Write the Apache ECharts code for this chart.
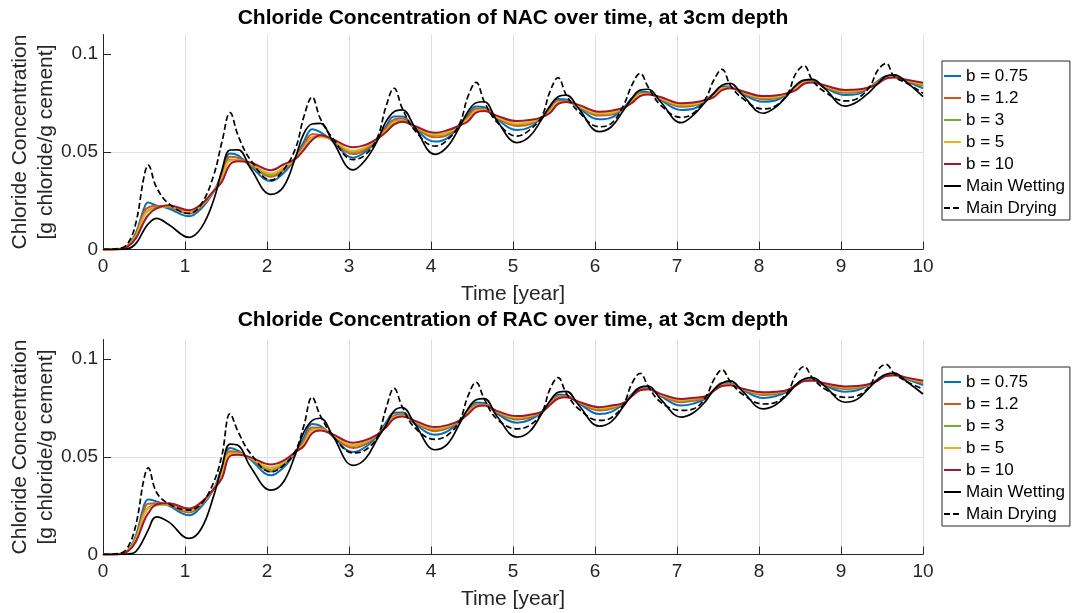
<!DOCTYPE html>
<html>
<head>
<meta charset="utf-8">
<script src="https://cdn.jsdelivr.net/npm/echarts@6/dist/echarts.min.js"></script>
<style>
  html, body { margin: 0; padding: 0; background: #fff; }
  #chart { width: 1075px; height: 613px; }
</style>
</head>
<body>
<div id="chart"></div>
<script>
// sample times (years)
var years = [0, 0.2, 0.3, 0.4, 0.5, 0.55, 0.65, 0.8,
  1.05, 1.2, 1.35, 1.45, 1.55, 1.65, 1.8,
  2.05, 2.2, 2.35, 2.45, 2.55, 2.65, 2.8,
  3.05, 3.2, 3.35, 3.45, 3.55, 3.65, 3.8,
  4.05, 4.2, 4.35, 4.45, 4.55, 4.65, 4.8,
  5.05, 5.2, 5.35, 5.45, 5.55, 5.65, 5.8,
  6.05, 6.2, 6.35, 6.45, 6.55, 6.65, 6.8,
  7.05, 7.2, 7.35, 7.45, 7.55, 7.65, 7.8,
  8.05, 8.2, 8.35, 8.45, 8.55, 8.65, 8.8,
  9.05, 9.2, 9.35, 9.45, 9.55, 9.65, 9.8,
  10];

// NAC
var nacB075 = [0, 0.0002, 0.002, 0.0083, 0.021, 0.024, 0.0225, 0.021,
  0.017, 0.021, 0.0295, 0.039, 0.0491, 0.048, 0.0425,
  0.035, 0.039, 0.047, 0.0552, 0.0615, 0.060, 0.0555,
  0.047, 0.050, 0.0565, 0.063, 0.068, 0.068, 0.062,
  0.0552, 0.057, 0.0635, 0.069, 0.0732, 0.0728, 0.067,
  0.0611, 0.0625, 0.0676, 0.0725, 0.077, 0.0768, 0.0725,
  0.0666, 0.0675, 0.0725, 0.0775, 0.0808, 0.0805, 0.0765,
  0.0714, 0.072, 0.0765, 0.080, 0.0835, 0.0833, 0.0795,
  0.0756, 0.0762, 0.080, 0.0835, 0.0862, 0.0862, 0.0828,
  0.079, 0.0795, 0.083, 0.0862, 0.0887, 0.0887, 0.086,
  0.0824];
var nacB12 = [0, 0.0002, 0.002, 0.0075, 0.0194, 0.0215, 0.0222, 0.0218,
  0.0184, 0.022, 0.0297, 0.0375, 0.0474, 0.0468, 0.0432,
  0.0372, 0.0405, 0.0468, 0.0535, 0.059, 0.0585, 0.0558,
  0.0488, 0.051, 0.0566, 0.062, 0.0665, 0.067, 0.0625,
  0.0574, 0.0585, 0.0635, 0.068, 0.072, 0.072, 0.0675,
  0.0632, 0.064, 0.0676, 0.0715, 0.076, 0.076, 0.073,
  0.0685, 0.069, 0.0725, 0.0765, 0.080, 0.080, 0.077,
  0.073, 0.0735, 0.0765, 0.0795, 0.0828, 0.083, 0.080,
  0.0768, 0.0772, 0.080, 0.083, 0.0858, 0.086, 0.0832,
  0.0802, 0.0805, 0.083, 0.0858, 0.0883, 0.0885, 0.0862,
  0.0838];
var nacB3 = [0, 0.0002, 0.002, 0.007, 0.0177, 0.020, 0.0215, 0.022,
  0.019, 0.0225, 0.0298, 0.0365, 0.046, 0.0458, 0.0437,
  0.038, 0.0415, 0.0467, 0.0525, 0.0575, 0.0578, 0.056,
  0.0498, 0.052, 0.0567, 0.061, 0.0655, 0.066, 0.063,
  0.0583, 0.0595, 0.0635, 0.067, 0.0712, 0.0715, 0.0678,
  0.064, 0.0648, 0.0676, 0.071, 0.0755, 0.0757, 0.0732,
  0.0692, 0.0697, 0.0725, 0.076, 0.0795, 0.0797, 0.0772,
  0.0737, 0.074, 0.0765, 0.079, 0.0825, 0.0828, 0.0803,
  0.0775, 0.0778, 0.080, 0.0825, 0.0855, 0.0858, 0.0835,
  0.0807, 0.081, 0.083, 0.0855, 0.088, 0.0883, 0.0864,
  0.0843];
var nacB5 = [0, 0.0002, 0.0018, 0.0065, 0.017, 0.0195, 0.021, 0.0222,
  0.0193, 0.0228, 0.0299, 0.036, 0.0454, 0.0455, 0.044,
  0.0389, 0.042, 0.0466, 0.052, 0.057, 0.0575, 0.056,
  0.0505, 0.0525, 0.0568, 0.0605, 0.065, 0.0655, 0.063,
  0.0588, 0.060, 0.0635, 0.0665, 0.071, 0.0712, 0.068,
  0.0645, 0.0652, 0.0676, 0.0705, 0.0752, 0.0755, 0.0735,
  0.0697, 0.070, 0.0725, 0.0755, 0.0792, 0.0795, 0.0775,
  0.0742, 0.0745, 0.0765, 0.0787, 0.0822, 0.0826, 0.0805,
  0.078, 0.0782, 0.080, 0.0822, 0.0853, 0.0857, 0.0837,
  0.081, 0.0813, 0.083, 0.0852, 0.0878, 0.0882, 0.0866,
  0.0847];
var nacB10 = [0, 0.0001, 0.0015, 0.0057, 0.0142, 0.0175, 0.021, 0.0227,
  0.0201, 0.0232, 0.030, 0.0347, 0.0436, 0.0452, 0.0445,
  0.0406, 0.0435, 0.0465, 0.051, 0.056, 0.0585, 0.0565,
  0.0523, 0.0535, 0.0568, 0.060, 0.064, 0.0654, 0.0632,
  0.0597, 0.061, 0.0635, 0.0655, 0.070, 0.0708, 0.0685,
  0.0657, 0.0662, 0.0676, 0.0698, 0.0745, 0.0755, 0.074,
  0.0705, 0.071, 0.0725, 0.075, 0.0785, 0.0793, 0.078,
  0.0748, 0.0752, 0.0765, 0.078, 0.0815, 0.0825, 0.081,
  0.0785, 0.0788, 0.080, 0.0815, 0.0848, 0.0855, 0.084,
  0.0816, 0.0818, 0.083, 0.0848, 0.0875, 0.088, 0.0868,
  0.0853];
var nacWet = [0, 0, 0.0003, 0.003, 0.010, 0.013, 0.0159, 0.0128,
  0.0062, 0.0112, 0.0253, 0.0405, 0.0509, 0.051, 0.0415,
  0.0282, 0.032, 0.0475, 0.0594, 0.0642, 0.0645, 0.0555,
  0.0407, 0.0458, 0.056, 0.0654, 0.0705, 0.0714, 0.0628,
  0.0487, 0.0526, 0.0628, 0.0705, 0.0751, 0.0756, 0.0662,
  0.0547, 0.0577, 0.0666, 0.0734, 0.0782, 0.079, 0.0722,
  0.0603, 0.0628, 0.0714, 0.0773, 0.0816, 0.082, 0.0756,
  0.0649, 0.0688, 0.0756, 0.0799, 0.0841, 0.085, 0.079,
  0.0697, 0.0727, 0.079, 0.0841, 0.0867, 0.087, 0.0824,
  0.0734, 0.0756, 0.0807, 0.085, 0.0887, 0.0893, 0.0855,
  0.0782];
var nacDry = [0, 0.0005, 0.003, 0.0134, 0.0372, 0.0432, 0.032, 0.0235,
  0.0185, 0.0233, 0.038, 0.055, 0.070, 0.058, 0.0458,
  0.0355, 0.0407, 0.052, 0.068, 0.078, 0.067, 0.0569,
  0.046, 0.0485, 0.0577, 0.073, 0.0825, 0.0722, 0.0611,
  0.0529, 0.056, 0.0645, 0.0782, 0.0855, 0.0756, 0.0654,
  0.058, 0.0611, 0.068, 0.0807, 0.0879, 0.079, 0.0705,
  0.0628, 0.0645, 0.0739, 0.0841, 0.0901, 0.083, 0.0739,
  0.0676, 0.0697, 0.0773, 0.0867, 0.0922, 0.0841, 0.0773,
  0.0719, 0.0734, 0.0799, 0.0901, 0.094, 0.0867, 0.0807,
  0.076, 0.0773, 0.0833, 0.0918, 0.0952, 0.0884, 0.0852,
  0.0799];

// RAC
var racB075 = [0, 0.0002, 0.002, 0.0095, 0.025, 0.0281, 0.0272, 0.025,
  0.0201, 0.0245, 0.0335, 0.0445, 0.0545, 0.053, 0.0485,
  0.0405, 0.0445, 0.0525, 0.060, 0.0668, 0.0658, 0.0605,
  0.0524, 0.055, 0.061, 0.0675, 0.0725, 0.0727, 0.067,
  0.0613, 0.063, 0.0685, 0.074, 0.0778, 0.0775, 0.0722,
  0.0674, 0.0688, 0.0728, 0.0778, 0.0818, 0.0815, 0.0775,
  0.0719, 0.073, 0.0772, 0.082, 0.0852, 0.085, 0.081,
  0.0762, 0.0772, 0.0798, 0.084, 0.0877, 0.0876, 0.0842,
  0.0801, 0.081, 0.0835, 0.0868, 0.0895, 0.0894, 0.0865,
  0.0833, 0.084, 0.0868, 0.0898, 0.092, 0.092, 0.0898,
  0.0867];
var racB12 = [0, 0.0002, 0.002, 0.0085, 0.023, 0.026, 0.0262, 0.0252,
  0.0215, 0.0255, 0.0335, 0.043, 0.0528, 0.0523, 0.049,
  0.0425, 0.046, 0.0525, 0.058, 0.065, 0.0648, 0.0608,
  0.0545, 0.0563, 0.0612, 0.0665, 0.0712, 0.0718, 0.0677,
  0.0631, 0.0645, 0.0685, 0.0732, 0.0768, 0.0769, 0.0728,
  0.0691, 0.070, 0.0729, 0.0772, 0.081, 0.081, 0.0778,
  0.0737, 0.0745, 0.0773, 0.0816, 0.0847, 0.0848, 0.0815,
  0.0779, 0.0786, 0.0802, 0.084, 0.0872, 0.0872, 0.0845,
  0.0816, 0.0821, 0.0838, 0.0867, 0.0892, 0.0892, 0.087,
  0.0847, 0.0851, 0.087, 0.0895, 0.0917, 0.0919, 0.0901,
  0.0876];
var racB3 = [0, 0.0002, 0.002, 0.008, 0.021, 0.024, 0.0255, 0.0255,
  0.022, 0.026, 0.0335, 0.042, 0.052, 0.0518, 0.0492,
  0.0435, 0.0467, 0.0525, 0.057, 0.064, 0.0642, 0.061,
  0.0555, 0.0572, 0.0613, 0.066, 0.0705, 0.0713, 0.068,
  0.064, 0.0652, 0.0685, 0.0727, 0.0763, 0.0766, 0.0731,
  0.0698, 0.0707, 0.0729, 0.0769, 0.0805, 0.0808, 0.078,
  0.0744, 0.0752, 0.0774, 0.0814, 0.0844, 0.0847, 0.0818,
  0.0786, 0.0793, 0.0805, 0.0839, 0.0868, 0.087, 0.0846,
  0.0822, 0.0826, 0.084, 0.0866, 0.089, 0.0891, 0.0873,
  0.0852, 0.0855, 0.0871, 0.0895, 0.0915, 0.0918, 0.0903,
  0.0881];
var racB5 = [0, 0.0002, 0.0018, 0.0075, 0.020, 0.0235, 0.025, 0.0258,
  0.0225, 0.0262, 0.0335, 0.041, 0.0515, 0.0515, 0.0494,
  0.0445, 0.0472, 0.0525, 0.0565, 0.0635, 0.064, 0.0612,
  0.056, 0.0578, 0.0614, 0.0655, 0.070, 0.071, 0.0683,
  0.0645, 0.0657, 0.0685, 0.0722, 0.0759, 0.0764, 0.0733,
  0.0702, 0.0711, 0.073, 0.0767, 0.0801, 0.0806, 0.0781,
  0.0749, 0.0757, 0.0775, 0.0812, 0.0842, 0.0846, 0.082,
  0.0791, 0.0798, 0.0808, 0.0838, 0.0865, 0.0868, 0.0847,
  0.0826, 0.083, 0.0841, 0.0865, 0.0888, 0.089, 0.0875,
  0.0856, 0.0859, 0.0872, 0.0893, 0.0914, 0.0917, 0.0904,
  0.0885];
var racB10 = [0, 0.0001, 0.0015, 0.0065, 0.017, 0.021, 0.0255, 0.0262,
  0.0235, 0.0268, 0.0335, 0.039, 0.0504, 0.051, 0.0497,
  0.046, 0.048, 0.0525, 0.0555, 0.062, 0.0634, 0.0615,
  0.0572, 0.0585, 0.0615, 0.065, 0.0695, 0.0706, 0.0685,
  0.0652, 0.0662, 0.0685, 0.0718, 0.0755, 0.0762, 0.0735,
  0.0708, 0.0715, 0.073, 0.0765, 0.0798, 0.0804, 0.0782,
  0.0754, 0.0762, 0.0775, 0.081, 0.084, 0.0845, 0.0822,
  0.0796, 0.0802, 0.081, 0.0838, 0.0862, 0.0866, 0.0848,
  0.083, 0.0833, 0.0842, 0.0865, 0.0887, 0.089, 0.0876,
  0.086, 0.0862, 0.0872, 0.089, 0.0913, 0.0917, 0.0905,
  0.0889];
var racWet = [0, 0, 0.0002, 0.0015, 0.0082, 0.0125, 0.0193, 0.0167,
  0.0082, 0.0133, 0.030, 0.0448, 0.0565, 0.0558, 0.0448,
  0.0329, 0.0371, 0.0516, 0.0626, 0.0685, 0.0697, 0.0609,
  0.0456, 0.049, 0.0595, 0.066, 0.0735, 0.0752, 0.067,
  0.0536, 0.0565, 0.067, 0.0745, 0.0792, 0.0798, 0.071,
  0.0601, 0.0628, 0.072, 0.0785, 0.083, 0.0835, 0.0765,
  0.0657, 0.068, 0.076, 0.0815, 0.0855, 0.0862, 0.0795,
  0.0703, 0.0725, 0.0785, 0.0845, 0.0878, 0.0888, 0.0835,
  0.0745, 0.0765, 0.082, 0.0868, 0.0898, 0.0905, 0.0862,
  0.0779, 0.0795, 0.0855, 0.0895, 0.0922, 0.0928, 0.0885,
  0.0821];
var racDry = [0, 0.0005, 0.0035, 0.015, 0.0388, 0.0443, 0.032, 0.026,
  0.0227, 0.026, 0.037, 0.0507, 0.072, 0.0626, 0.0516,
  0.0422, 0.0456, 0.0533, 0.066, 0.0805, 0.0711, 0.0609,
  0.052, 0.0535, 0.0605, 0.0745, 0.085, 0.0755, 0.065,
  0.0589, 0.061, 0.0685, 0.081, 0.0881, 0.0795, 0.0695,
  0.0643, 0.066, 0.0725, 0.0845, 0.0905, 0.0825, 0.0745,
  0.0686, 0.070, 0.077, 0.0875, 0.0927, 0.086, 0.078,
  0.0737, 0.0745, 0.0805, 0.0895, 0.0945, 0.0885, 0.082,
  0.077, 0.0778, 0.083, 0.092, 0.0962, 0.0905, 0.0848,
  0.0804, 0.0812, 0.0862, 0.0945, 0.0973, 0.0925, 0.0885,
  0.0847];

var names = ['b = 0.75', 'b = 1.2', 'b = 3', 'b = 5', 'b = 10', 'Main Wetting', 'Main Drying'];
var colors = ['#0072BD', '#D95319', '#77AC30', '#EDB120', '#A2142F', '#000000', '#000000'];
var yTicks = [0, 0.05, 0.1];

var FONT = 'Liberation Sans, Arial, Helvetica, sans-serif';
var AXIS_COLOR = '#262626';
var GRID_COLOR = '#dfdfdf';

function makeXAxis(idx) {
  return {
    type: 'value', gridIndex: idx, min: 0, max: 10, interval: 1,
    name: 'Time [year]', nameLocation: 'middle', nameGap: 34,
    nameMoveOverlap: false,
    nameTextStyle: { fontSize: 21, color: AXIS_COLOR, fontFamily: FONT },
    axisLine: { show: true, onZero: false, lineStyle: { color: AXIS_COLOR, width: 1 } },
    axisTick: { show: true, inside: true, length: 8, lineStyle: { color: AXIS_COLOR } },
    axisLabel: { fontSize: 19, color: AXIS_COLOR, margin: 8, fontFamily: FONT },
    splitLine: { show: true, showMinLine: false, lineStyle: { color: GRID_COLOR, width: 1 } }
  };
}

function makeYAxis(idx) {
  return {
    type: 'value', gridIndex: idx, min: 0, max: 0.11, interval: 0.05,
    name: 'Chloride Concentration\n[g chloride/g cement]',
    nameLocation: 'middle', nameRotate: 90, nameGap: 44,
    nameMoveOverlap: false,
    nameTextStyle: { fontSize: 21, lineHeight: 26, color: AXIS_COLOR, fontFamily: FONT },
    axisLine: { show: true, onZero: false, lineStyle: { color: AXIS_COLOR, width: 1 } },
    axisTick: { show: true, inside: true, length: 8, customValues: yTicks, lineStyle: { color: AXIS_COLOR } },
    axisLabel: { fontSize: 19, color: AXIS_COLOR, margin: 5, fontFamily: FONT, customValues: yTicks },
    splitLine: { show: true, showMinLine: false, showMaxLine: false, lineStyle: { color: GRID_COLOR, width: 1 } }
  };
}

function makeSeries(list, idx) {
  return list.map(function (arr, i) {
    return {
      name: names[i],
      type: 'line',
      xAxisIndex: idx,
      yAxisIndex: idx,
      data: years.map(function (t, j) { return [t, arr[j]]; }),
      symbol: 'none',
      smooth: 0.4,
      lineStyle: {
        color: colors[i],
        width: i < 5 ? 2 : 1.7,
        type: i === 6 ? [6, 3] : 'solid'
      },
      itemStyle: { color: colors[i] }
    };
  });
}

function makeLegend(top) {
  return {
    orient: 'vertical', left: 942, top: top,
    data: names,
    selectedMode: false,
    itemWidth: 17, itemHeight: 12, itemGap: 2,
    padding: [5, 5, 2, 1],
    borderColor: AXIS_COLOR, borderWidth: 1, backgroundColor: '#fff',
    itemStyle: { opacity: 0 },
    textStyle: { fontSize: 17, lineHeight: 20, color: '#000', fontFamily: FONT }
  };
}

function makeTitle(text, top) {
  return {
    text: text, left: 513, top: top, textAlign: 'center', padding: 0,
    textStyle: { fontSize: 21, fontWeight: 'bold', color: '#000', fontFamily: FONT }
  };
}

var option = {
  backgroundColor: '#fff',
  animation: false,
  title: [
    makeTitle('Chloride Concentration of NAC over time, at 3cm depth', 8),
    makeTitle('Chloride Concentration of RAC over time, at 3cm depth', 310)
  ],
  legend: [makeLegend(61), makeLegend(367)],
  grid: [
    { left: 103, width: 820, top: 34.5, height: 215, outerBoundsMode: 'none' },
    { left: 103, width: 820, top: 339.5, height: 215, outerBoundsMode: 'none' }
  ],
  xAxis: [makeXAxis(0), makeXAxis(1)],
  yAxis: [makeYAxis(0), makeYAxis(1)],
  series: makeSeries([nacB075, nacB12, nacB3, nacB5, nacB10, nacWet, nacDry], 0)
    .concat(makeSeries([racB075, racB12, racB3, racB5, racB10, racWet, racDry], 1))
};

var chart = echarts.init(document.getElementById('chart'));
chart.setOption(option);
</script>
</body>
</html>
